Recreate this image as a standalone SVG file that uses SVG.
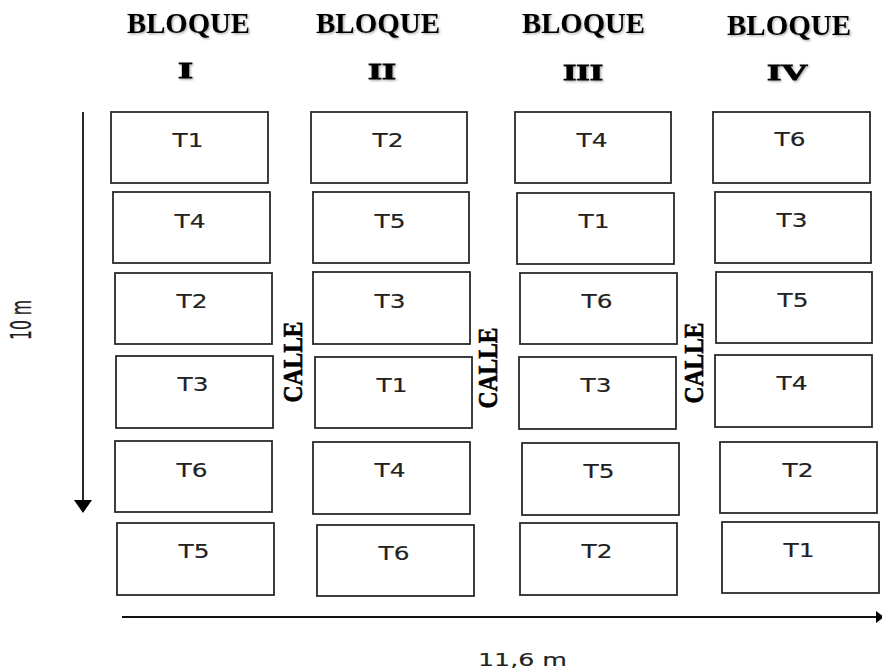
<svg xmlns="http://www.w3.org/2000/svg" width="882" height="672" viewBox="0 0 882 672">
<style>
.plot rect{fill:#fff;stroke:#2a2a2a;stroke-width:1.8}
.plot text{font-family:"DejaVu Sans","Liberation Sans",sans-serif;font-size:19px;fill:#222;stroke:#222;stroke-width:0.15;text-anchor:middle}
.hdr{font-family:"Liberation Serif","DejaVu Serif",serif;font-weight:bold;fill:#000;text-anchor:middle}
.dim{font-family:"DejaVu Sans","Liberation Sans",sans-serif;font-size:18px;fill:#222;stroke:#222;stroke-width:0.15;text-anchor:middle}
.conn line{stroke:#111;stroke-width:1.8}
</style>
<defs>
<filter id="sh" x="-10%" y="-20%" width="130%" height="150%">
<feDropShadow dx="1.2" dy="1.2" stdDeviation="0.8" flood-color="#000" flood-opacity="0.35"/>
</filter>
</defs>
<rect width="882" height="672" fill="#fff"/>

<g id="headers" filter="url(#sh)">
<text class="hdr" x="188.5" y="33" font-size="29" textLength="123" lengthAdjust="spacingAndGlyphs">BLOQUE</text>
<text class="hdr" x="378" y="33" font-size="29" textLength="124" lengthAdjust="spacingAndGlyphs">BLOQUE</text>
<text class="hdr" x="583.5" y="33" font-size="29" textLength="123" lengthAdjust="spacingAndGlyphs">BLOQUE</text>
<text class="hdr" x="789" y="35" font-size="29" textLength="124" lengthAdjust="spacingAndGlyphs">BLOQUE</text>
<text class="hdr" x="185.5" y="78" font-size="23" stroke="#000" stroke-width="0.8" textLength="15" lengthAdjust="spacingAndGlyphs">I</text>
<text class="hdr" x="382" y="79" font-size="23" stroke="#000" stroke-width="0.8" textLength="28" lengthAdjust="spacingAndGlyphs">II</text>
<text class="hdr" x="583" y="80" font-size="23" stroke="#000" stroke-width="0.8" textLength="40" lengthAdjust="spacingAndGlyphs">III</text>
<text class="hdr" x="787.5" y="80" font-size="23" stroke="#000" stroke-width="0.8" textLength="41" lengthAdjust="spacingAndGlyphs">IV</text>
</g>

<g id="calles">
<text class="hdr" font-size="23" stroke="#000" stroke-width="0.5" transform="translate(302,362) scale(1.2,1) rotate(-90)" textLength="81" lengthAdjust="spacingAndGlyphs">CALLE</text>
<text class="hdr" font-size="23" stroke="#000" stroke-width="0.5" transform="translate(497,368) scale(1.2,1) rotate(-90)" textLength="81" lengthAdjust="spacingAndGlyphs">CALLE</text>
<text class="hdr" font-size="23" stroke="#000" stroke-width="0.5" transform="translate(703,363) scale(1.2,1) rotate(-90)" textLength="81" lengthAdjust="spacingAndGlyphs">CALLE</text>
</g>

<g id="bloque-I" class="plot">
<g id="I-T1"><rect x="111" y="112" width="157" height="71"/><text x="188" y="147" textLength="31" lengthAdjust="spacingAndGlyphs">T1</text></g>
<g id="I-T4"><rect x="113" y="192" width="157" height="71"/><text x="190" y="228" textLength="31" lengthAdjust="spacingAndGlyphs">T4</text></g>
<g id="I-T2"><rect x="115" y="273" width="157" height="71"/><text x="192" y="308" textLength="31" lengthAdjust="spacingAndGlyphs">T2</text></g>
<g id="I-T3"><rect x="116" y="356" width="157" height="72"/><text x="193" y="391" textLength="31" lengthAdjust="spacingAndGlyphs">T3</text></g>
<g id="I-T6"><rect x="115" y="441" width="157" height="71"/><text x="192" y="477" textLength="31" lengthAdjust="spacingAndGlyphs">T6</text></g>
<g id="I-T5"><rect x="117" y="523" width="157" height="72"/><text x="194" y="558" textLength="31" lengthAdjust="spacingAndGlyphs">T5</text></g>
</g>

<g id="bloque-II" class="plot">
<g id="II-T2"><rect x="311" y="112" width="156" height="71"/><text x="388" y="147" textLength="31" lengthAdjust="spacingAndGlyphs">T2</text></g>
<g id="II-T5"><rect x="313" y="192" width="156" height="71"/><text x="390" y="228" textLength="31" lengthAdjust="spacingAndGlyphs">T5</text></g>
<g id="II-T3"><rect x="313" y="272" width="157" height="72"/><text x="390" y="308" textLength="31" lengthAdjust="spacingAndGlyphs">T3</text></g>
<g id="II-T1"><rect x="315" y="357" width="157" height="71"/><text x="392" y="392" textLength="31" lengthAdjust="spacingAndGlyphs">T1</text></g>
<g id="II-T4"><rect x="313" y="442" width="157" height="72"/><text x="390" y="477" textLength="31" lengthAdjust="spacingAndGlyphs">T4</text></g>
<g id="II-T6"><rect x="317" y="525" width="157" height="71"/><text x="394" y="560" textLength="31" lengthAdjust="spacingAndGlyphs">T6</text></g>
</g>

<g id="bloque-III" class="plot">
<g id="III-T4"><rect x="515" y="112" width="156" height="71"/><text x="592" y="147" textLength="31" lengthAdjust="spacingAndGlyphs">T4</text></g>
<g id="III-T1"><rect x="517" y="193" width="157" height="71"/><text x="594" y="228" textLength="31" lengthAdjust="spacingAndGlyphs">T1</text></g>
<g id="III-T6"><rect x="520" y="273" width="157" height="71"/><text x="597" y="308" textLength="31" lengthAdjust="spacingAndGlyphs">T6</text></g>
<g id="III-T3"><rect x="519" y="357" width="157" height="72"/><text x="596" y="392" textLength="31" lengthAdjust="spacingAndGlyphs">T3</text></g>
<g id="III-T5"><rect x="522" y="443" width="157" height="72"/><text x="599" y="478" textLength="31" lengthAdjust="spacingAndGlyphs">T5</text></g>
<g id="III-T2"><rect x="520" y="523" width="157" height="72"/><text x="597" y="558" textLength="31" lengthAdjust="spacingAndGlyphs">T2</text></g>
</g>

<g id="bloque-IV" class="plot">
<g id="IV-T6"><rect x="713" y="112" width="157" height="71"/><text x="790" y="146" textLength="31" lengthAdjust="spacingAndGlyphs">T6</text></g>
<g id="IV-T3"><rect x="715" y="192" width="156" height="71"/><text x="792" y="227" textLength="31" lengthAdjust="spacingAndGlyphs">T3</text></g>
<g id="IV-T5"><rect x="716" y="272" width="156" height="71"/><text x="793" y="307" textLength="31" lengthAdjust="spacingAndGlyphs">T5</text></g>
<g id="IV-T4"><rect x="715" y="355" width="157" height="72"/><text x="792" y="390" textLength="31" lengthAdjust="spacingAndGlyphs">T4</text></g>
<g id="IV-T2"><rect x="720" y="442" width="157" height="71"/><text x="798" y="477" textLength="31" lengthAdjust="spacingAndGlyphs">T2</text></g>
<g id="IV-T1"><rect x="722" y="522" width="157" height="71"/><text x="799" y="557" textLength="31" lengthAdjust="spacingAndGlyphs">T1</text></g>
</g>

<g id="connectors" class="conn">
<line x1="83" y1="112" x2="83" y2="502"/>
<polygon points="74,500 92,500 83,513" fill="#000"/>
<line x1="122" y1="617" x2="877" y2="617"/>
<polygon points="876,611 884,617 876,623" fill="#000"/>
</g>

<g id="dimensions">
<text class="dim" transform="translate(31,320) scale(1.55,1) rotate(-90)" textLength="40" lengthAdjust="spacingAndGlyphs">10 m</text>
<text class="dim" x="522.5" y="666" textLength="89" lengthAdjust="spacingAndGlyphs">11,6 m</text>
</g>
</svg>
